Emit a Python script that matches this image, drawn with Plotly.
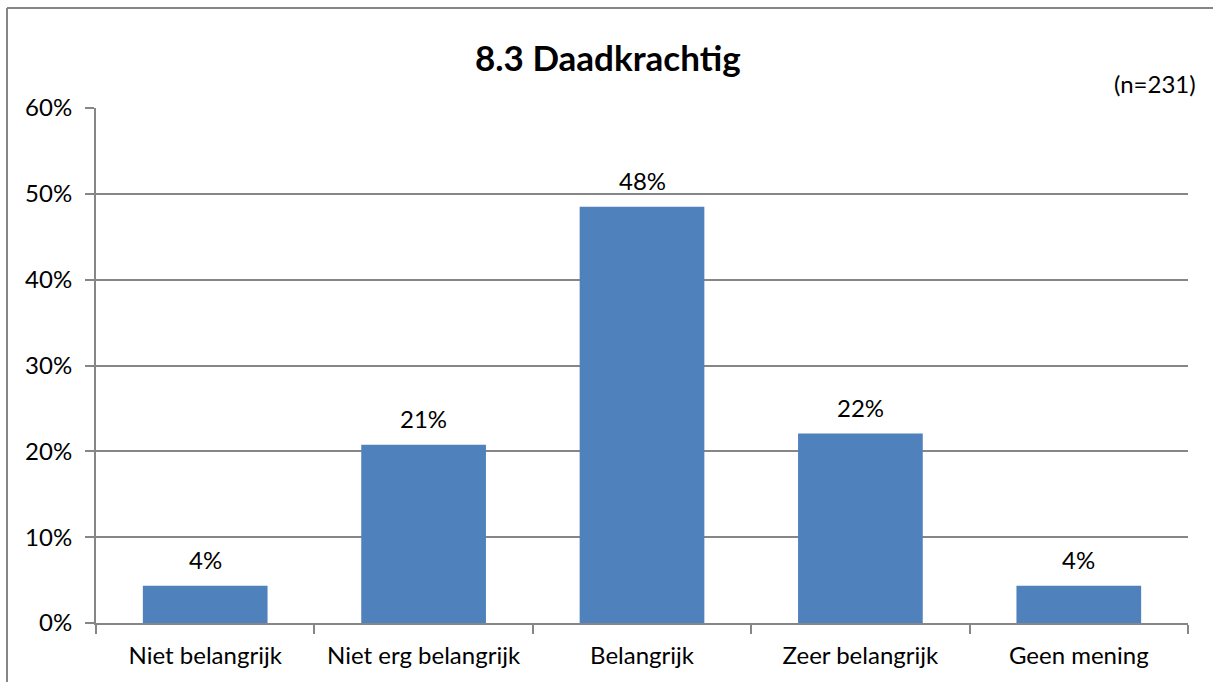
import plotly.graph_objects as go

# Survey answers for "Daadkrachtig" (n=231)
categories = ["Niet belangrijk", "Niet erg belangrijk", "Belangrijk", "Zeer belangrijk", "Geen mening"]
counts = [10, 48, 112, 51, 10]
total = 231
shares = [c / total for c in counts]

tick_values = [0, 0.1, 0.2, 0.3, 0.4, 0.5, 0.6]
tick_labels = ["0%", "10%", "20%", "30%", "40%", "50%", "60%"]

FONT = "Lato, 'Open Sans', sans-serif"
GRID = "#868686"
BAR = "#4F81BD"
TXT = 24

W, H = 1213, 682
L, R, T, B = 96, 25, 108, 59
pw, ph = W - L - R, H - T - B


def px_x(x):
    return (x - L) / pw


def px_y(y):
    return (H - B - y) / ph


fig = go.Figure()
fig.add_trace(go.Bar(
    x=categories,
    y=shares,
    marker=dict(color=BAR, line=dict(width=0)),
    width=0.571,
    hoverinfo="skip",
))

# value labels above each bar
for cat, val in zip(categories, shares):
    fig.add_annotation(
        x=cat, y=val, text=f"{val:.0%}", showarrow=False,
        yanchor="bottom", yshift=10,
        font=dict(family=FONT, size=TXT, color="#000000"),
    )

fig.add_annotation(
    xref="paper", yref="paper", x=px_x(608), y=px_y(57),
    text="<b>8.3 Daadkrachtig</b>", showarrow=False,
    xanchor="center", yanchor="middle",
    font=dict(family=FONT, size=35, color="#000000"),
)
fig.add_annotation(
    xref="paper", yref="paper", x=px_x(1198), y=px_y(83),
    text="(n=231)", showarrow=False,
    xanchor="right", yanchor="middle",
    font=dict(family=FONT, size=TXT, color="#000000"),
)

# chart frame (left and top edges)
fig.add_shape(type="line", xref="paper", yref="paper",
              x0=px_x(7), x1=px_x(7), y0=px_y(8), y1=px_y(700),
              line=dict(color=GRID, width=2))
fig.add_shape(type="line", xref="paper", yref="paper",
              x0=px_x(7), x1=px_x(1230), y0=px_y(8), y1=px_y(8),
              line=dict(color=GRID, width=2))

fig.update_layout(
    width=W, height=H,
    margin=dict(l=L, r=R, t=T, b=B, pad=0),
    paper_bgcolor="white", plot_bgcolor="white",
    showlegend=False,
    font=dict(family=FONT, size=TXT, color="#000000"),
    bargap=0.429,
)
fig.update_xaxes(
    showline=True, linecolor=GRID, linewidth=2,
    ticks="outside", tickson="boundaries", ticklen=9, tickcolor=GRID, tickwidth=2,
    showgrid=False, tickfont=dict(family=FONT, size=TXT),
    ticklabelstandoff=10,
)
fig.update_yaxes(
    range=[0, 0.6], tickvals=tick_values, ticktext=tick_labels,
    showline=True, linecolor=GRID, linewidth=2,
    ticks="outside", ticklen=9, tickcolor=GRID, tickwidth=2,
    showgrid=True, gridcolor=GRID, gridwidth=1.5,
    zeroline=False, tickfont=dict(family=FONT, size=TXT),
    ticklabelstandoff=8,
)

fig.write_html("out.html")
